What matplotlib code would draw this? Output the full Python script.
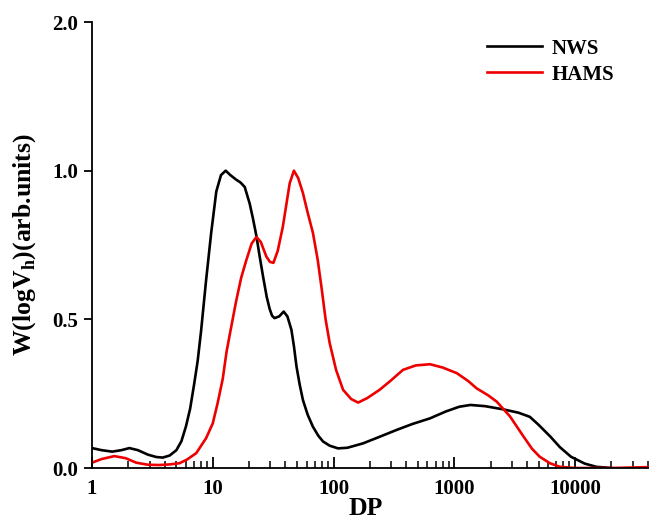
import numpy as np
import matplotlib.pyplot as plt
from matplotlib.ticker import FixedLocator, NullFormatter

plt.rcParams['font.family'] = 'Liberation Serif'
plt.rcParams['font.weight'] = 'bold'
plt.rcParams['mathtext.fontset'] = 'custom'
plt.rcParams['mathtext.rm'] = 'Liberation Serif:bold'
plt.rcParams['mathtext.bf'] = 'Liberation Serif:bold'

# values
nws_dp = [1.0, 1.2, 1.47, 1.75, 2.04, 2.4, 2.9, 3.4, 3.85, 4.4, 5.0, 5.5, 6.0, 6.5,
          7.0, 7.5, 8.0, 8.8, 9.7, 10.7, 11.7, 12.8, 14.0, 15.6, 17.0, 18.4, 20.2,
          21.5, 23, 24.5, 26.1, 28, 29.6, 31, 32.5, 35.5, 38.7, 41.5, 44.8, 47,
          49.4, 52.5, 55.8, 61, 67.5, 75, 82, 93, 109, 130, 150, 176, 241, 333,
          450, 630, 850, 1100, 1360, 1800, 2560, 3400, 4230, 5000, 6270, 7500,
          9250, 12000, 15000, 20000]
nws_w = [0.067, 0.06, 0.055, 0.06, 0.067, 0.06, 0.045, 0.037, 0.035, 0.042, 0.06,
         0.09, 0.14, 0.2, 0.28, 0.36, 0.46, 0.63, 0.79, 0.93, 0.985, 1.0, 0.985,
         0.97, 0.96, 0.945, 0.89, 0.84, 0.78, 0.71, 0.644, 0.575, 0.535, 0.512,
         0.504, 0.51, 0.526, 0.51, 0.465, 0.41, 0.341, 0.28, 0.229, 0.18, 0.139,
         0.108, 0.089, 0.075, 0.066, 0.068, 0.075, 0.083, 0.105, 0.128, 0.148,
         0.167, 0.19, 0.206, 0.212, 0.208, 0.197, 0.186, 0.172, 0.145, 0.105,
         0.07, 0.038, 0.015, 0.004, 0.0]

hams_dp = [1.0, 1.2, 1.53, 1.9, 2.32, 2.9, 3.6, 4.4, 5.3, 6.1, 7.3, 8.8, 10, 11,
           12.1, 13, 14, 15.6, 17.2, 19.0, 21, 23, 25, 27.8, 29.8, 31.8, 34.5,
           38, 43.4, 47, 51, 55.8, 61, 67.6, 74, 80, 86, 93, 105, 120, 140, 160,
           190, 241, 300, 376, 480, 630, 800, 1050, 1300, 1530, 1900, 2250, 2900,
           3760, 4400, 5100, 6200, 7500, 10000, 20000, 41000]
hams_w = [0.018, 0.03, 0.04, 0.033, 0.018, 0.011, 0.01, 0.012, 0.016, 0.028, 0.05,
          0.1, 0.15, 0.22, 0.30, 0.39, 0.46, 0.56, 0.64, 0.70, 0.755, 0.777, 0.76,
          0.711, 0.693, 0.69, 0.73, 0.81, 0.958, 1.0, 0.975, 0.925, 0.86, 0.79,
          0.7, 0.6, 0.5, 0.42, 0.33, 0.263, 0.232, 0.22, 0.235, 0.263, 0.295,
          0.33, 0.345, 0.349, 0.338, 0.319, 0.293, 0.268, 0.245, 0.223, 0.173,
          0.105, 0.065, 0.038, 0.016, 0.004, 0.0, 0.0, 0.003]

y_ticks = [0.0, 0.5, 1.0, 2.0]
x_ticks = [1, 10, 100, 1000, 10000]
x_labels = ['1', '10', '100', '1000', '10000']


# y axis is compressed above 1.0 (half scale)
def fwd(y):
    y = np.asarray(y, dtype=float)
    return np.where(y <= 1, y, 1 + (y - 1) * 0.5)


def inv(y):
    y = np.asarray(y, dtype=float)
    return np.where(y <= 1, y, 1 + (y - 1) * 2)


fig = plt.figure(figsize=(6.49, 5.21), dpi=100)
ax = fig.add_axes([92 / 649, 1 - 468 / 521, 1 - 92 / 649, (468 - 22) / 521])

ax.plot(nws_dp, nws_w, color='black', lw=1.9, label='NWS')
ax.plot(hams_dp, hams_w, color='#ee0000', lw=1.9, label='HAMS')

ax.set_xscale('log')
ax.set_yscale('function', functions=(fwd, inv))
ax.set_xlim(1, 41000)
ax.set_ylim(0, 2.0)

ax.xaxis.set_major_locator(FixedLocator(x_ticks))
ax.set_xticklabels(x_labels)
minors = [m * 10 ** d for d in range(0, 5) for m in range(2, 10)]
ax.xaxis.set_minor_locator(FixedLocator(minors))
ax.xaxis.set_minor_formatter(NullFormatter())
ax.yaxis.set_major_locator(FixedLocator(y_ticks))
ax.set_yticklabels(['%.1f' % v for v in y_ticks])
ax.yaxis.set_minor_locator(FixedLocator([]))

for s in ['top', 'right']:
    ax.spines[s].set_visible(False)
ax.spines['left'].set_linewidth(1.3)
ax.spines['bottom'].set_linewidth(1.3)

ax.tick_params(axis='x', which='major', direction='in', length=8, width=1.3,
               labelsize=15, pad=8)
ax.tick_params(axis='x', which='minor', direction='in', length=5, width=1.1)
ax.tick_params(axis='y', which='major', direction='out', length=6, width=1.3,
               labelsize=15, pad=4)

ax.set_xlabel('DP', fontsize=18.5, fontweight='bold')
ax.xaxis.label.set_va('baseline')
ax.xaxis.set_label_coords(0.492, -(515 - 468) / 446)
ax.set_ylabel(r'W(logV$_\mathrm{h}$)(arb.units)', fontsize=18.5, fontweight='bold',
              labelpad=10)

leg = ax.legend(loc='upper right', bbox_to_anchor=(0.972, 1.005), frameon=False,
                fontsize=15, handlelength=2.6, handletextpad=0.5, labelspacing=0.3)

fig.savefig('out.png', dpi=100)
